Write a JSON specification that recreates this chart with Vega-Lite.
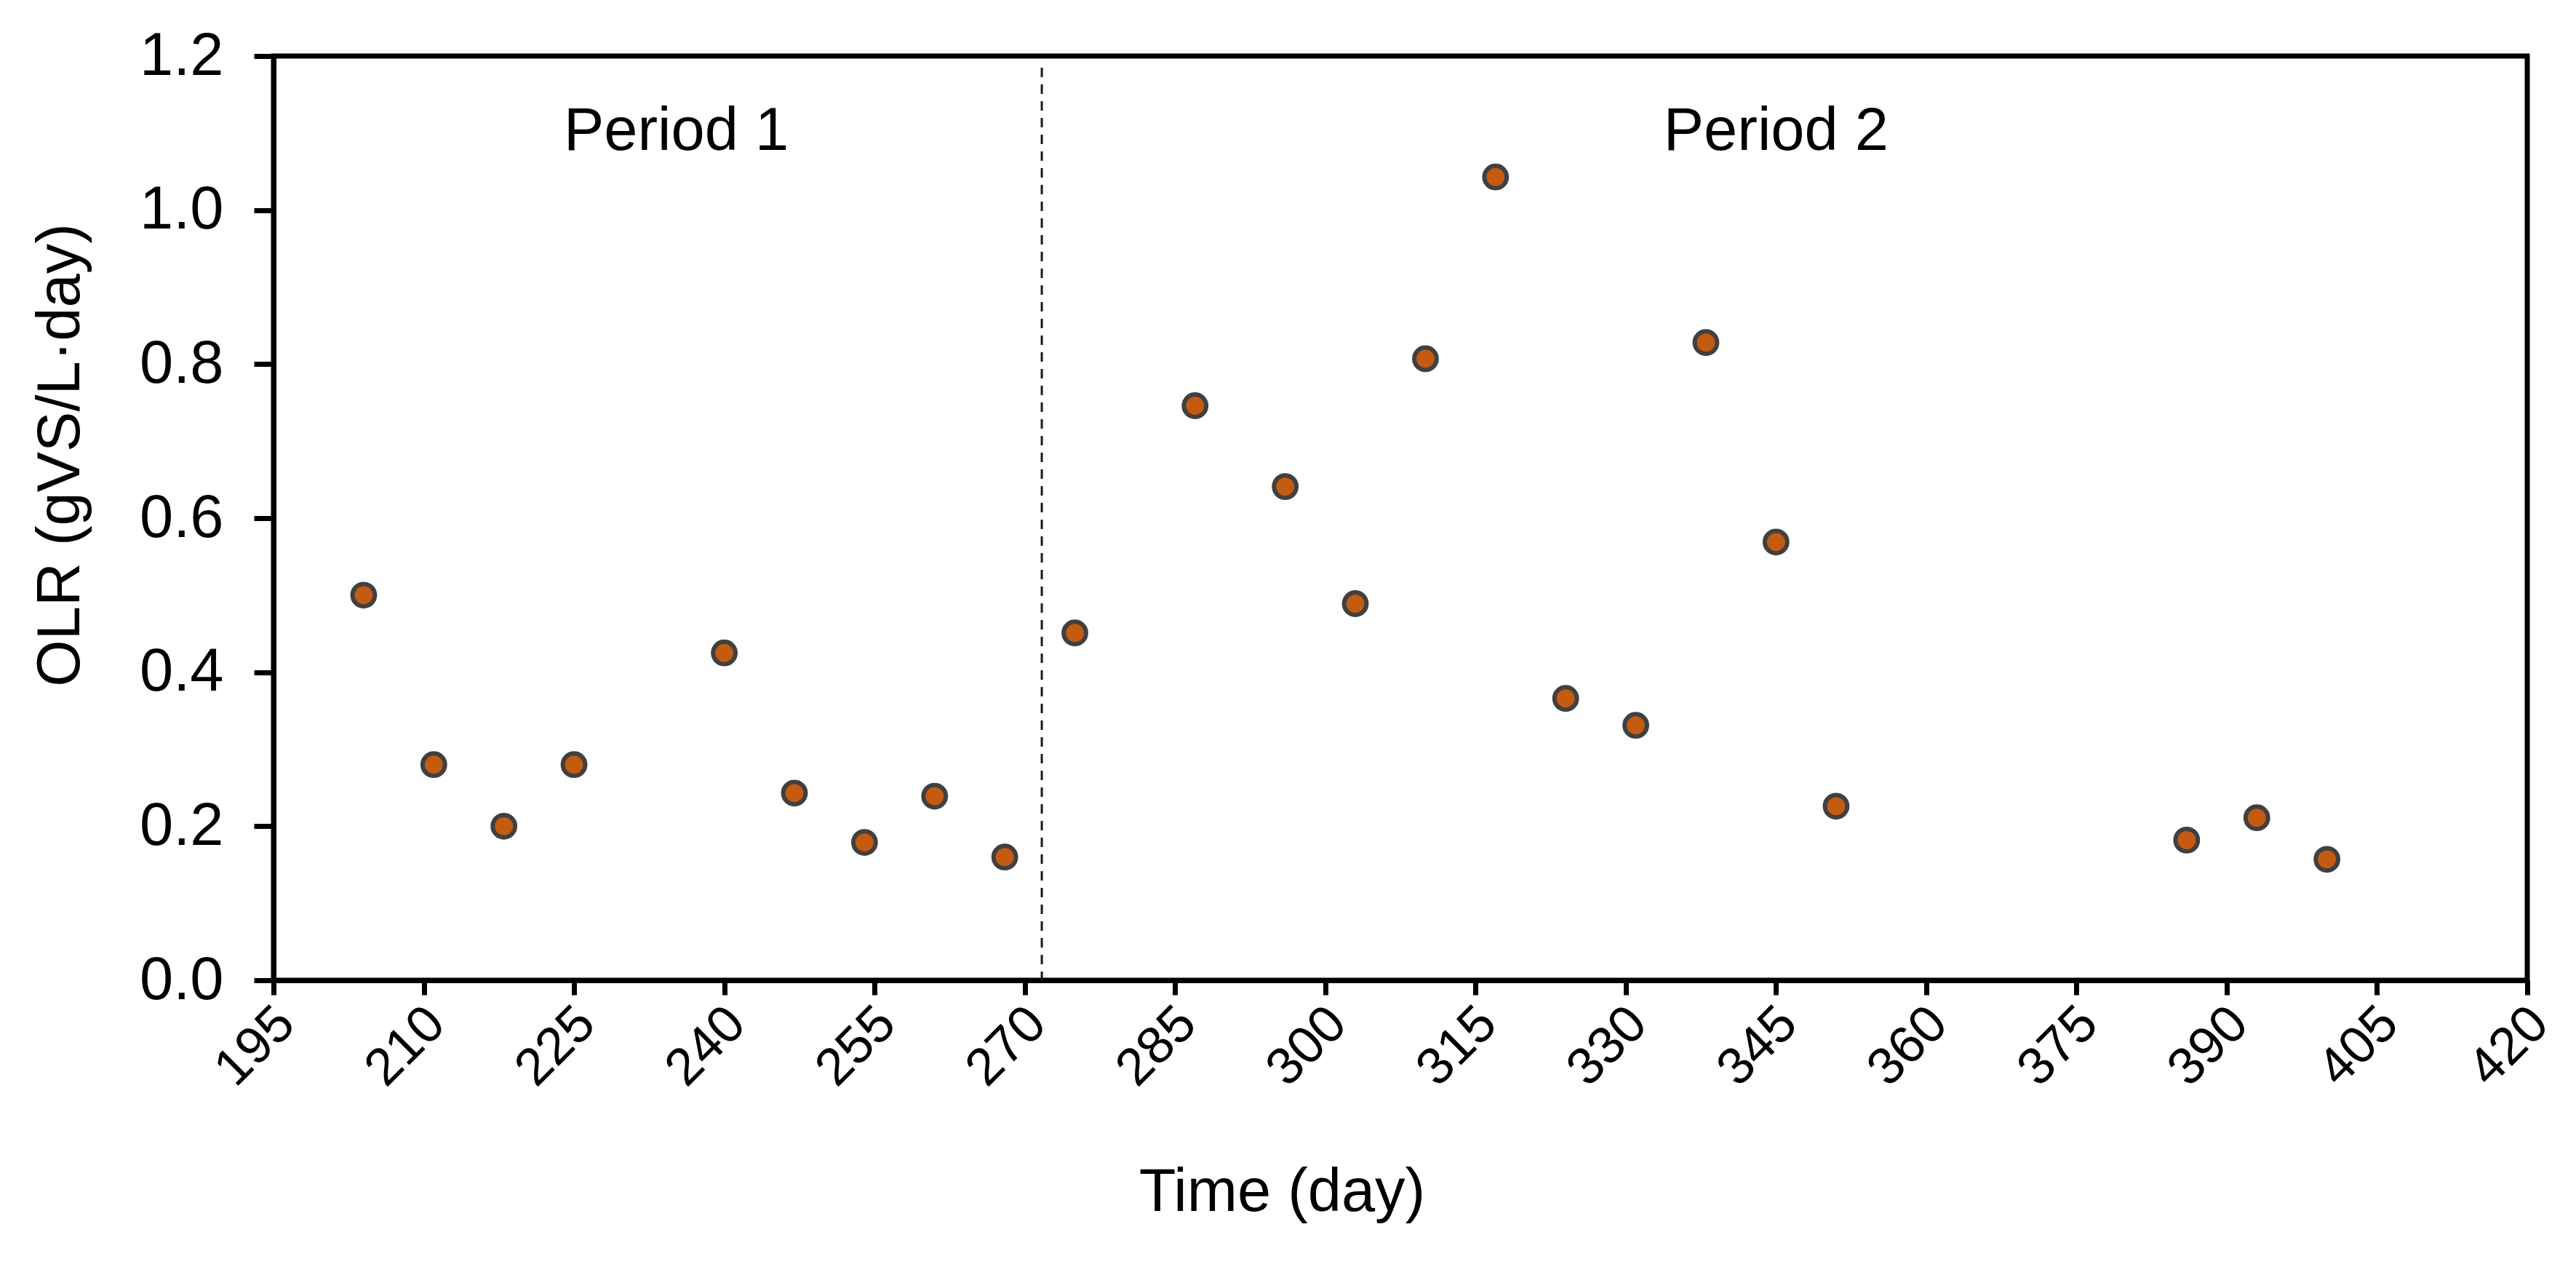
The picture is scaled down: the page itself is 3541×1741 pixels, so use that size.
{
  "$schema": "https://vega.github.io/schema/vega-lite/v6.json",
  "width": 3098,
  "height": 1270,
  "autosize": {"type": "none"},
  "padding": {"left": 376, "top": 77, "right": 67, "bottom": 394},
  "background": "white",
  "config": {
    "font": "Liberation Sans",
    "view": {"stroke": "black", "strokeWidth": 7},
    "axis": {
      "grid": false,
      "domainColor": "black",
      "domainWidth": 7,
      "tickColor": "black",
      "tickWidth": 7,
      "labelColor": "black",
      "titleColor": "black",
      "labelFont": "Liberation Sans",
      "titleFont": "Liberation Sans",
      "titleFontWeight": "normal",
      "labelFlush": false,
      "labelOverlap": false
    }
  },
  "datasets": {
    "olr": [
      {"day": 204, "olr": 0.50},
      {"day": 211, "olr": 0.28},
      {"day": 218, "olr": 0.20},
      {"day": 225, "olr": 0.28},
      {"day": 240, "olr": 0.425},
      {"day": 247, "olr": 0.243},
      {"day": 254, "olr": 0.179},
      {"day": 261, "olr": 0.239},
      {"day": 268, "olr": 0.160},
      {"day": 275, "olr": 0.451},
      {"day": 287, "olr": 0.746},
      {"day": 296, "olr": 0.641},
      {"day": 303, "olr": 0.489},
      {"day": 310, "olr": 0.807},
      {"day": 317, "olr": 1.043},
      {"day": 324, "olr": 0.366},
      {"day": 331, "olr": 0.331},
      {"day": 338, "olr": 0.828},
      {"day": 345, "olr": 0.569},
      {"day": 351, "olr": 0.226},
      {"day": 386, "olr": 0.182},
      {"day": 393, "olr": 0.211},
      {"day": 400, "olr": 0.157}
    ],
    "divider": [
      {"day": 271.7, "top": 1.185, "bottom": 0}
    ],
    "periods": [
      {"day": 235.2, "olr": 1.078, "label": "Period 1"},
      {"day": 345.0, "olr": 1.078, "label": "Period 2"}
    ]
  },
  "encoding": {
    "x": {
      "field": "day",
      "type": "quantitative",
      "title": "Time (day)",
      "scale": {"domain": [195, 420], "nice": false, "zero": false},
      "axis": {
        "values": [195, 210, 225, 240, 255, 270, 285, 300, 315, 330, 345, 360, 375, 390, 405, 420],
        "labelAngle": -45,
        "labelAlign": "right",
        "labelBaseline": "top",
        "labelFontSize": 72,
        "labelOffset": -8,
        "tickSize": 20,
        "labelPadding": 3,
        "titleFontSize": 83,
        "titleAngle": 0,
        "titleX": 1386,
        "titleY": 316,
        "titleAlign": "center",
        "titleBaseline": "alphabetic"
      }
    },
    "y": {
      "field": "olr",
      "type": "quantitative",
      "title": "OLR (gVS/L·day)",
      "scale": {"domain": [0, 1.2], "nice": false, "zero": true},
      "axis": {
        "values": [0, 0.2, 0.4, 0.6, 0.8, 1.0, 1.2],
        "format": ".1f",
        "labelFontSize": 83,
        "tickSize": 27,
        "labelPadding": 42,
        "titleFontSize": 83,
        "titleAngle": -90,
        "titleX": -268,
        "titleY": 548,
        "titleAlign": "center",
        "titleBaseline": "alphabetic"
      }
    }
  },
  "layer": [
    {
      "data": {"name": "divider"},
      "mark": {"type": "rule", "strokeDash": [13, 10], "strokeWidth": 3, "color": "#1a1a1a"},
      "encoding": {
        "y": {"field": "top", "type": "quantitative", "title": "OLR (gVS/L·day)"},
        "y2": {"field": "bottom"}
      }
    },
    {
      "data": {"name": "olr"},
      "mark": {
        "type": "circle",
        "size": 950,
        "fill": "#C55A11",
        "stroke": "#404040",
        "strokeWidth": 6,
        "opacity": 1,
        "fillOpacity": 1,
        "strokeOpacity": 1
      }
    },
    {
      "data": {"name": "periods"},
      "mark": {
        "type": "text",
        "fontSize": 83,
        "font": "Liberation Sans",
        "color": "black",
        "align": "center",
        "baseline": "alphabetic"
      },
      "encoding": {
        "text": {"field": "label"}
      }
    }
  ]
}
